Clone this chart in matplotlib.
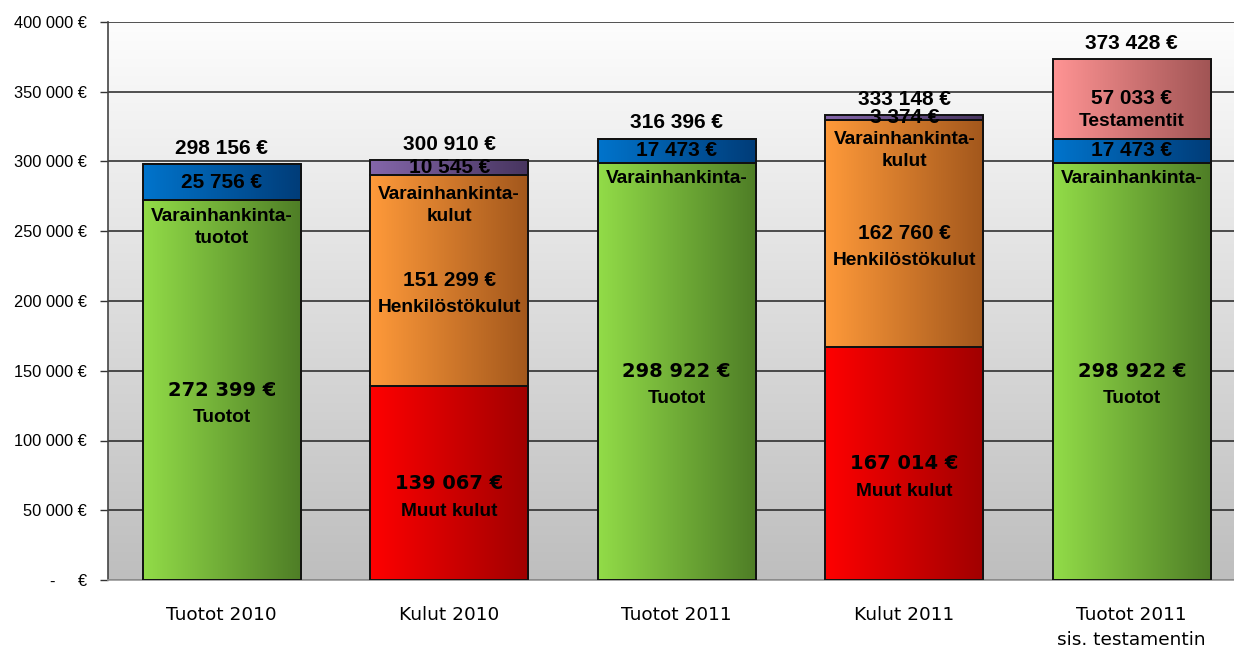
import matplotlib.pyplot as plt
import numpy as np
from matplotlib.colors import LinearSegmentedColormap

categories = ['Tuotot 2010', 'Kulut 2010', 'Tuotot 2011', 'Kulut 2011',
              'Tuotot 2011\nsis. testamentin']

# bottom layer: Tuotot (green) / Muut kulut (red)
layer1 = [272399, 139067, 298922, 167014, 298922]
layer1_kind = ['tuotot', 'muut', 'tuotot', 'muut', 'tuotot']
# middle layer: Varainhankintatuotot (blue) / Henkilöstökulut (orange)
layer2 = [25756, 151299, 17473, 162760, 17473]
layer2_kind = ['vhtuotot', 'henk', 'vhtuotot', 'henk', 'vhtuotot']
# top layer: Varainhankintakulut (purple) / Testamentit (pink)
layer3 = [0, 10545, 0, 3374, 57033]
layer3_kind = [None, 'vhkulut', None, 'vhkulut', 'testam']
totals = [298156, 300910, 316396, 333148, 373428]

grads = {
    'tuotot': ('#92dc48', '#4e7d26'),
    'muut': ('#ff0000', '#a00000'),
    'vhtuotot': ('#0074cc', '#003c78'),
    'henk': ('#ff9a3a', '#a2571c'),
    'vhkulut': ('#8466aa', '#47355f'),
    'testam': ('#ff9494', '#a05454'),
}

ARIAL = 'Liberation Sans'
VERD = 'DejaVu Sans'

fig = plt.figure(figsize=(12.34, 6.48), dpi=100)
ax = fig.add_axes([108 / 1234, 68 / 648, 1137.5 / 1234, 558 / 648])

x = np.arange(len(categories))
width = 0.695

# background gradient, white at top -> grey at bottom
bg = np.linspace(0, 1, 256).reshape(-1, 1)
bgcmap = LinearSegmentedColormap.from_list('bg', ['#fdfdfd', '#bebebe'])
ax.imshow(bg, cmap=bgcmap, extent=[-0.5, 4.5, 0, 400000], origin='upper',
          aspect='auto', zorder=0)

hgrad = np.linspace(0, 1, 256).reshape(1, -1)
bottom = np.zeros(len(categories))
for vals, kinds in [(layer1, layer1_kind), (layer2, layer2_kind), (layer3, layer3_kind)]:
    bars = ax.bar(x, vals, width, bottom=bottom, color='none', edgecolor='#111111',
                  linewidth=1.4, zorder=3)
    for b, k in zip(bars, kinds):
        if k is None or b.get_height() == 0:
            continue
        cm = LinearSegmentedColormap.from_list(k, grads[k])
        x0, y0 = b.get_x(), b.get_y()
        ax.imshow(hgrad, cmap=cm, extent=[x0, x0 + b.get_width(), y0, y0 + b.get_height()],
                  aspect='auto', zorder=2)
    bottom += np.array(vals)

ax.set_xlim(-0.5, 4.5)
ax.set_ylim(0, 400000)


def fmt(v):
    return f'{v:,.0f}'.replace(',', ' ') + ' €'


def put(xi, y, s, dy=0, size=13.8, family=ARIAL, va='center', ls=1.4):
    ax.annotate(s, (xi, y), xytext=(0, dy), textcoords='offset points', ha='center',
                va=va, fontsize=size, fontweight='bold', family=family, zorder=5,
                linespacing=ls, annotation_clip=False)


for i in range(len(categories)):
    b1, b2, b3 = layer1[i], layer2[i], layer3[i]
    top = b1 + b2 + b3
    put(i, top, fmt(totals[i]), dy=11.5, size=15)
    if layer1_kind[i] == 'tuotot':
        put(i, b1 / 2, fmt(b1), size=14, family=VERD)
        put(i, b1 / 2, 'Tuotot', dy=-19.5)
        put(i, b1 + b2 / 2, fmt(b2), size=15)
        if i == 0:
            put(i, b1, 'Varainhankinta-\ntuotot', dy=-6, va='top', ls=1.35)
        else:
            put(i, b1, 'Varainhankinta-', dy=-5, va='top')
        if b3 > 0:
            put(i, b1 + b2 + b3 / 2, fmt(b3), dy=0, size=15)
            put(i, b1 + b2 + b3 / 2, 'Testamentit', dy=-16)
    else:
        put(i, b1 / 2, fmt(b1), size=14, family=VERD)
        put(i, b1 / 2, 'Muut kulut', dy=-20.5)
        put(i, b1 + b2 / 2, fmt(b2), size=15)
        put(i, b1 + b2 / 2, 'Henkilöstökulut', dy=-19.5)
        put(i, b1 + b2, 'Varainhankinta-\nkulut', dy=-8, va='top', ls=1.35)
        put(i, b1 + b2 + b3 / 2, fmt(b3), size=15)

# axes styling
yt = np.arange(0, 400001, 50000)
ax.set_yticks(yt)
ax.set_yticklabels([fmt(v) if v else '-     €' for v in yt], family=ARIAL, fontsize=11.8)
ax.set_xticks(x)
ax.set_xticklabels(categories, family=VERD, fontsize=13.3, linespacing=1.45)
ax.tick_params(axis='y', length=6, width=1, color='#333333', pad=9)
ax.tick_params(axis='x', length=0, pad=19)
ax.yaxis.grid(True, color='#222222', linewidth=1.1, zorder=1)
ax.set_axisbelow(True)
for s in ['top', 'right']:
    ax.spines[s].set_visible(False)
ax.spines['left'].set_color('#444444')
ax.spines['left'].set_linewidth(1.2)
ax.spines['bottom'].set_color('#9a9a9a')
ax.spines['bottom'].set_linewidth(1.2)

fig.savefig('out.png', dpi=100)
